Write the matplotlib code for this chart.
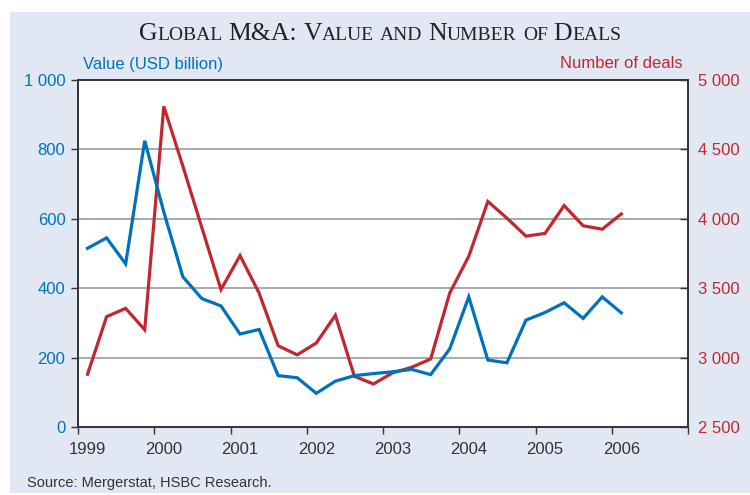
import numpy as np
import pandas as pd
import matplotlib
matplotlib.use("Agg")
import matplotlib.pyplot as plt
from matplotlib.patches import Rectangle

# quarterly data, 1999Q1 - 2006Q1
quarters = pd.period_range("1999Q1", "2006Q1", freq="Q")
value_usd_bn = [515, 545, 470, 825, 620, 433, 370, 349, 268, 281,
                148, 142, 97, 132, 148, 154, 159, 166, 151, 225,
                375, 193, 185, 308, 330, 358, 313, 375, 329]
num_deals = [2880, 3295, 3355, 3200, 4810, 4380, 3935, 3490, 3735, 3465,
             3085, 3020, 3105, 3305, 2865, 2810, 2890, 2930, 2990, 3465,
             3730, 4125, 4005, 3875, 3895, 4095, 3950, 3925, 4035]
years = list(range(1999, 2007))
left_ticks = [0, 200, 400, 600, 800, 1000]
right_ticks = [2500, 3000, 3500, 4000, 4500, 5000]

blue = "#0072BC"
red = "#C1272D"
panel = "#E1E8F3"
dark = "#333333"

plt.rcParams["font.family"] = ["Liberation Sans", "DejaVu Sans"]

xpos = np.array([q.year + (q.quarter - 1) / 4 + 0.125 for q in quarters])

fig = plt.figure(figsize=(7.5, 4.95), dpi=100)
fig.patch.set_facecolor("white")
fig.add_artist(Rectangle((10 / 750, 2 / 495), 740 / 750, 481 / 495,
                         transform=fig.transFigure, facecolor=panel,
                         edgecolor="none", zorder=0))

ax = fig.add_axes([78 / 750, 68 / 495, 610 / 750, 347 / 495])
ax.set_facecolor("white")
ax2 = ax.twinx()

ax.set_zorder(ax2.get_zorder() + 1)
ax.patch.set_visible(False)
ax2.patch.set_visible(True)
ax2.patch.set_facecolor("white")

ax2.plot(xpos, num_deals, color=red, lw=2.3, solid_joinstyle="miter")
ax.plot(xpos, value_usd_bn, color=blue, lw=2.3, solid_joinstyle="miter")

ax.set_xlim(1999, 2007)
ax.set_ylim(0, 1000)
ax2.set_ylim(2500, 5000)

for v in left_ticks[1:-1]:
    ax2.axhline(2500 + v * 2.5, color="#A0A4A8", lw=1.3, zorder=1)

ax.set_xticks(list(range(1999, 2008)))
ax.set_xticklabels([])
ax.set_xticks([y + 0.125 for y in years], minor=True)
ax.set_xticklabels([str(y) for y in years], minor=True)
ax.tick_params(axis="x", which="major", direction="out", length=5,
               width=1, color=dark)
ax.tick_params(axis="x", which="minor", length=0, pad=11,
               labelsize=12, labelcolor=dark)

ax.set_yticks(left_ticks)
ax.set_yticklabels([f"{v:,}".replace(",", " ") for v in left_ticks])
ax.tick_params(axis="y", direction="out", length=5, width=1, color=dark,
               labelsize=12, labelcolor=blue, pad=4)

ax2.set_yticks(right_ticks)
ax2.set_yticklabels([f"{v:,}".replace(",", " ") for v in right_ticks])
ax2.tick_params(axis="y", direction="in", length=6, width=1, color=dark,
                labelsize=12, labelcolor=red, pad=7)

for a in (ax, ax2):
    for s in a.spines.values():
        s.set_color(dark)
        s.set_linewidth(1.2)

fig.text(83 / 750, 1 - 64 / 495, "Value (USD billion)", color=blue,
         fontsize=12, va="center", ha="left")
fig.text(683 / 750, 1 - 64 / 495, "Number of deals", color=red,
         fontsize=12, va="center", ha="right")
fig.text(27 / 750, 1 - 483 / 495, "Source: Mergerstat, HSBC Research.",
         color=dark, fontsize=10.5, va="center", ha="left")

# small-caps title built from pieces
big, small = 18.5, 14
words = [[("G", big), ("LOBAL", small)],
         [("M&A:", big)],
         [("V", big), ("ALUE", small)],
         [("AND", small)],
         [("N", big), ("UMBER", small)],
         [("OF", small)],
         [("D", big), ("EALS", small)]]
renderer = fig.canvas.get_renderer()
gap = 6.0
pieces = []
total = 0
for wi, word in enumerate(words):
    for txt, size in word:
        t = fig.text(0, 1 - 40 / 495, txt, fontsize=size,
                     family="Liberation Serif", color="#222222",
                     ha="left", va="baseline")
        w = t.get_window_extent(renderer).width
        pieces.append((t, total))
        total += w
    if wi < len(words) - 1:
        total += gap
x0 = 380 - total / 2
for t, off in pieces:
    t.set_x((x0 + off) / 750)

fig.savefig("out.png", dpi=100, facecolor=fig.get_facecolor())
